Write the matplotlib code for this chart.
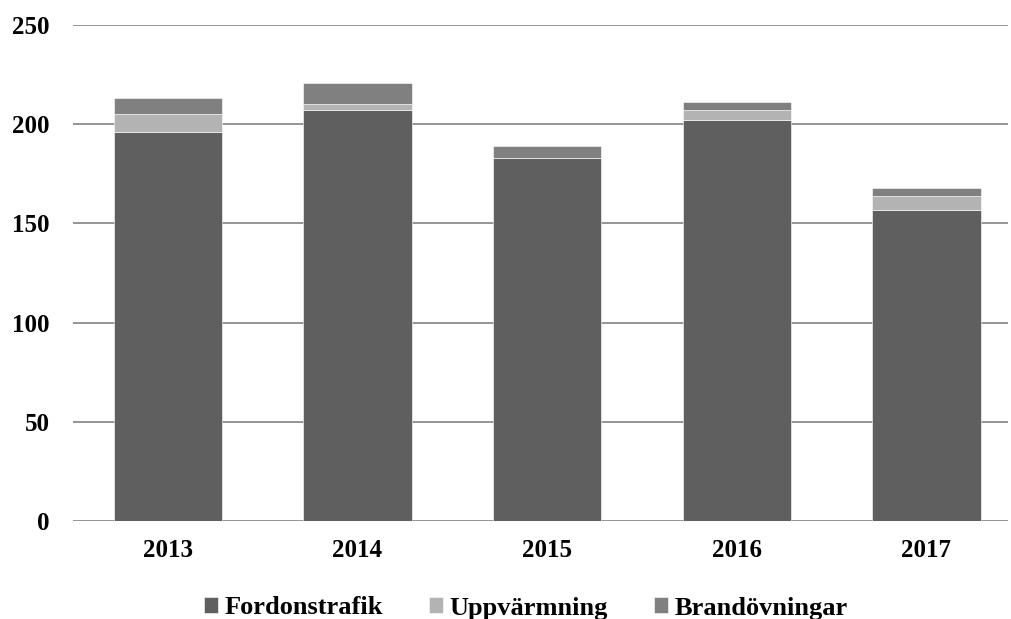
import matplotlib.pyplot as plt
import numpy as np

plt.rcParams['font.family'] = ['Liberation Serif', 'DejaVu Serif']
plt.rcParams['font.weight'] = 'bold'

years = ['2013', '2014', '2015', '2016', '2017']
fordonstrafik = [196, 207, 183, 202, 157]
uppvarmning = [9, 3, 0, 5, 7]
brandovningar = [8, 11, 6, 4, 4]

colors = ['#5f5f5f', '#b3b3b3', '#808080']
labels = ['Fordonstrafik', 'Uppvärmning', 'Brandövningar']

fig = plt.figure(figsize=(10.11, 6.19), dpi=100)
ax = fig.add_axes([73 / 1011, (619 - 521) / 619, (1008 - 73) / 1011, (521 - 25) / 619])

x = np.arange(len(years))
w = 0.57
bottom = np.zeros(len(years))
for vals, c, lab in zip([fordonstrafik, uppvarmning, brandovningar], colors, labels):
    ax.bar(x, vals, w, bottom=bottom, color=c, label=lab, edgecolor='white', linewidth=0.4, zorder=3)
    bottom += np.array(vals)

ax.set_xlim(-0.5, 4.43)
ax.set_ylim(0, 250)
ax.set_yticks(range(0, 251, 50))
ax.yaxis.grid(True, color='#8c8c8c', linewidth=1.3, zorder=0)
ax.set_axisbelow(True)
for s in ax.spines.values():
    s.set_visible(False)
ax.tick_params(axis='both', length=0, labelsize=18)
ax.tick_params(axis='y', pad=17)
ax.tick_params(axis='x', pad=13)
ax.set_xticks(x)
ax.set_xticklabels(years)

fig.legend(loc='center', bbox_to_anchor=(0.52, 11 / 619), ncol=3, frameon=False,
           fontsize=19, handlelength=0.53, handleheight=0.53, handletextpad=0.25,
           columnspacing=1.74, borderpad=0)

fig.savefig('out.png', dpi=100)
